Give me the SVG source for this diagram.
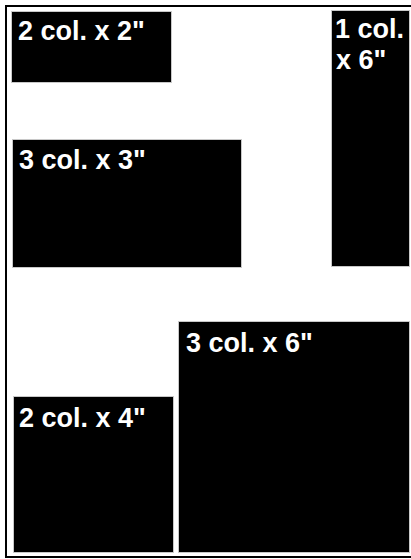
<svg xmlns="http://www.w3.org/2000/svg" width="411" height="559" viewBox="0 0 411 559">
<style>
.box{fill:#000;stroke:#c8c8c8;stroke-width:1}
.lbl{fill:#fff;font-family:"Liberation Sans",Arial,sans-serif;font-weight:bold;font-size:27px}
</style>
<rect x="0" y="0" width="411" height="559" fill="#fff"/>
<rect x="6" y="6" width="430" height="551" fill="none" stroke="#000" stroke-width="2"/>
<g id="box-2x2"><rect class="box" x="11.5" y="11.5" width="160" height="71"/><text class="lbl" x="18" y="40">2 col. x 2"</text></g>
<g id="box-1x6"><rect class="box" x="331.5" y="10.5" width="78" height="256"/><text class="lbl" x="335" y="38">1 col.</text><text class="lbl" x="336" y="69">x 6"</text></g>
<g id="box-3x3"><rect class="box" x="12.5" y="139.5" width="229" height="128"/><text class="lbl" x="19" y="169">3 col. x 3"</text></g>
<g id="box-3x6"><rect class="box" x="178.5" y="321.5" width="231" height="231"/><text class="lbl" x="186" y="352">3 col. x 6"</text></g>
<g id="box-2x4"><rect class="box" x="13.5" y="396.5" width="160" height="156"/><text class="lbl" x="19" y="427">2 col. x 4"</text></g>
<g id="connectors"/>
</svg>
